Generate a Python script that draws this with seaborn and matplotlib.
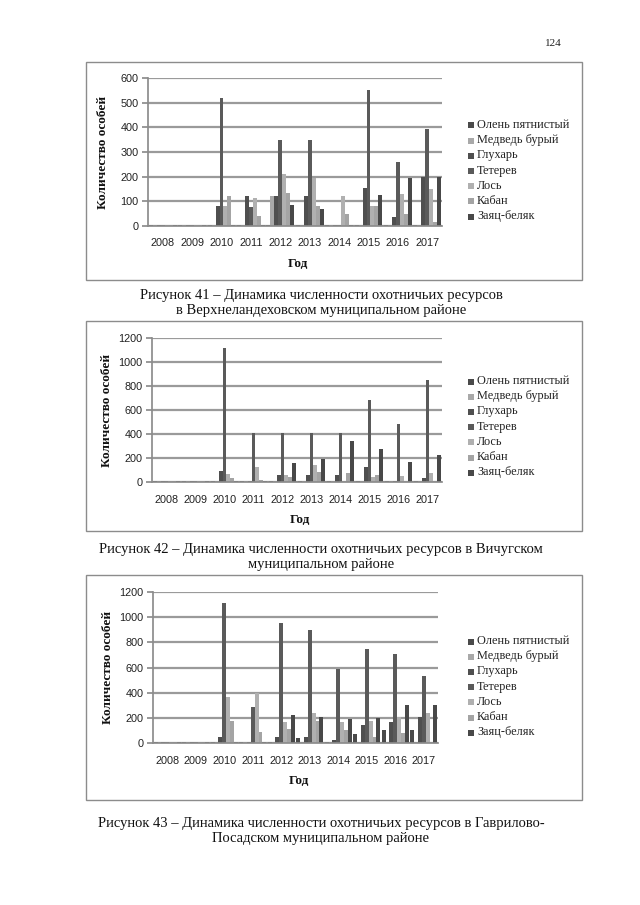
import numpy as np
import pandas as pd
import seaborn as sns
import matplotlib.pyplot as plt
from matplotlib.patches import Rectangle

years = [str(y) for y in range(2008, 2018)]
species = ["Олень пятнистый", "Медведь бурый", "Глухарь", "Тетерев", "Лось", "Кабан", "Заяц-беляк"]
colors = ["#4a4a4a", "#a9a9a9", "#4f4f4f", "#5a5a5a", "#b0b0b0", "#a4a4a4", "#484848"]

# values per year, columns in species order
verkhnelandekh = [
    [5, 5, 5, 5, 5, 5, 5],
    [5, 5, 5, 5, 5, 5, 5],
    [5, 5, 80, 520, 80, 120, 5],
    [5, 5, 120, 75, 115, 40, 5],
    [5, 120, 120, 350, 210, 135, 85],
    [5, 5, 120, 350, 195, 80, 70],
    [5, 5, 5, 5, 120, 50, 5],
    [5, 5, 155, 550, 80, 80, 125],
    [5, 5, 35, 260, 130, 50, 195],
    [5, 5, 200, 395, 150, 15, 200],
]
vichuga = [
    [8, 8, 8, 8, 8, 8, 8],
    [8, 8, 8, 8, 8, 8, 8],
    [5, 5, 95, 1120, 65, 30, 5],
    [5, 5, 5, 410, 125, 20, 5],
    [5, 5, 55, 410, 55, 40, 160],
    [5, 5, 60, 410, 140, 85, 195],
    [5, 5, 60, 410, 5, 75, 345],
    [5, 5, 125, 680, 45, 60, 275],
    [5, 5, 5, 480, 50, 5, 165],
    [5, 5, 35, 850, 75, 5, 225],
]
gavrilov = [
    [10, 10, 10, 10, 10, 10, 10],
    [10, 10, 10, 10, 10, 10, 10],
    [5, 5, 50, 1110, 365, 175, 5],
    [5, 5, 5, 290, 395, 90, 5],
    [5, 5, 45, 950, 165, 110, 225],
    [40, 5, 50, 900, 240, 175, 210],
    [5, 5, 25, 590, 165, 100, 190],
    [70, 5, 140, 750, 175, 45, 195],
    [100, 5, 165, 710, 210, 80, 300],
    [105, 5, 210, 530, 240, 5, 300],
]

captions = [
    "Рисунок 41 – Динамика численности охотничьих ресурсов\nв Верхнеландеховском муниципальном районе",
    "Рисунок 42 – Динамика численности охотничьих ресурсов в Вичугском\nмуниципальном районе",
    "Рисунок 43 – Динамика численности охотничьих ресурсов в Гаврилово-\nПосадском муниципальном районе",
]

W, H = 640, 905
sns.set_theme(style="white")
plt.rcParams["font.family"] = ["Liberation Serif", "DejaVu Serif"]

fig = plt.figure(figsize=(W / 100, H / 100), dpi=100)
fig.patch.set_facecolor("white")


def fx(x):
    return x / W


def fy(y):
    return 1 - y / H


def draw_chart(values, ymax, frame, plot, legend_top, caption_y, caption):
    fx0, fy0, fx1, fy1 = frame
    fig.patches.append(Rectangle((fx(fx0), fy(fy1)), fx(fx1 - fx0), (fy1 - fy0) / H,
                                 transform=fig.transFigure, fill=False,
                                 edgecolor="#8c8c8c", linewidth=1.0))
    px0, py0, px1, py1 = plot
    ax = fig.add_axes([fx(px0), fy(py1), fx(px1 - px0), (py1 - py0) / H])
    df = pd.DataFrame(values, index=years, columns=species)
    df = df.reset_index().melt(id_vars="index", var_name="species", value_name="count")
    df = df.rename(columns={"index": "year"})
    sns.barplot(data=df, x="year", y="count", hue="species", hue_order=species,
                palette=colors, width=0.95, ax=ax, legend=False, saturation=1,
                edgecolor="none")
    ax.set_ylim(0, ymax)
    ax.set_xlim(-0.5, len(years) - 0.5)
    step = 100 if ymax <= 600 else 200
    ax.set_yticks(np.arange(0, ymax + 1, step))
    ax.yaxis.grid(True, color="#9a9a9a", linewidth=1.6)
    ax.set_axisbelow(True)
    ax.set_xlabel("")
    ax.set_ylabel("")
    for s in ["top", "right"]:
        ax.spines[s].set_visible(False)
    ax.spines["left"].set_color("#8c8c8c")
    ax.spines["bottom"].set_color("#8c8c8c")
    ax.set_xticks(np.arange(-0.5, len(years)), minor=True)
    ax.tick_params(axis="x", which="major", length=0, pad=9, labelsize=7.8)
    ax.tick_params(axis="x", which="minor", length=4, color="#8c8c8c", direction="out")
    ax.tick_params(axis="y", length=4, color="#8c8c8c", labelsize=7.8, pad=3, left=True)
    for lab in ax.get_xticklabels() + ax.get_yticklabels():
        lab.set_family(["Liberation Sans", "DejaVu Sans"])
        lab.set_color("#222222")

    fig.text(fx(px0 - 45), fy((py0 + py1) / 2), "Количество особей", rotation=90,
             ha="center", va="center", fontsize=9.5, fontweight="bold", color="#111111")
    fig.text(fx((px0 + px1) / 2 + 3), fy(py1 + 38), "Год", ha="center", va="center",
             fontsize=9.5, fontweight="bold", color="#111111")

    # legend
    for i, (name, c) in enumerate(zip(species, colors)):
        ly = legend_top + i * 15.2
        fig.patches.append(Rectangle((fx(468), fy(ly + 3.5)), fx(6), 6 / H,
                                     transform=fig.transFigure, facecolor=c,
                                     edgecolor="none"))
        fig.text(fx(477), fy(ly), name, ha="left", va="center", fontsize=8.8,
                 color="#222222")

    fig.text(0.5 + fx(1), fy(caption_y), caption, ha="center", va="center",
             fontsize=10.5, color="#111111", linespacing=1.2)


fig.text(fx(553), fy(44), "124", ha="center", va="center", fontsize=8, color="#222222")

draw_chart(verkhnelandekh, 600, (86, 62, 582, 280), (148, 78, 442, 226), 125, 303, captions[0])
draw_chart(vichuga, 1200, (86, 321, 582, 531), (152, 338, 442, 482), 381, 557, captions[1])
draw_chart(gavrilov, 1200, (86, 575, 582, 800), (153, 592, 438, 743), 641, 831, captions[2])

fig.savefig("out.png", dpi=100, facecolor="white")
